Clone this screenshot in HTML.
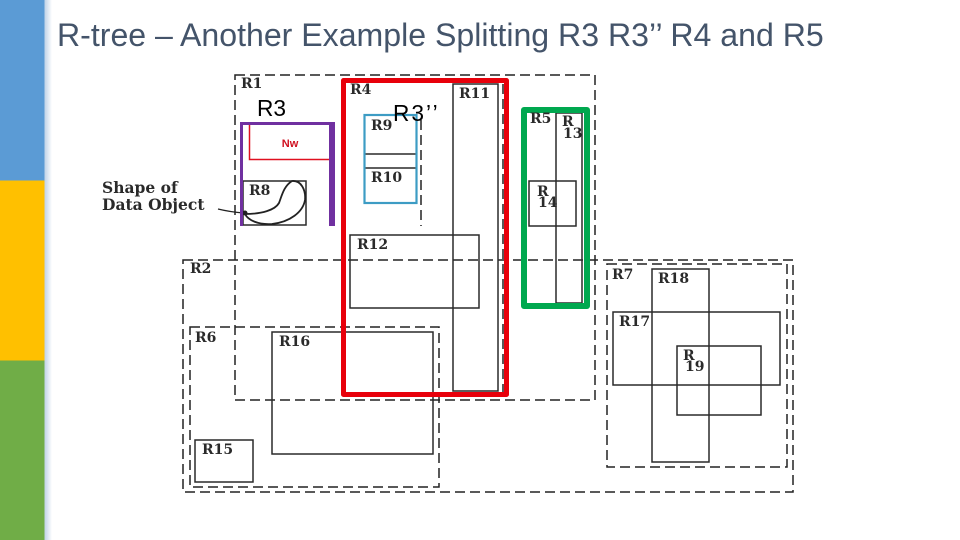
<!DOCTYPE html>
<html lang="en"><head><meta charset="utf-8"><title>R-tree</title>
<style>
html,body{margin:0;padding:0;background:#fff}
svg{display:block}
.t{font-family:"Liberation Sans",sans-serif}
.s{font-family:"DejaVu Serif","Liberation Serif",serif;font-weight:700;font-size:14px;fill:#2a2a2a}
.o{font-size:15.500px}
.d{fill:none;stroke:#222;stroke-width:1.500;stroke-dasharray:10 5}
.b{fill:none;stroke:#2a2a2a;stroke-width:1.500}
</style></head><body>
<svg width="960" height="540" viewBox="0 0 960 540" xmlns="http://www.w3.org/2000/svg">
<defs><linearGradient id="g" x1="0" x2="1" y1="0" y2="0"><stop offset="0" stop-color="#bcd0e6"/><stop offset="1" stop-color="#fff"/></linearGradient></defs>
<rect width="960" height="540" fill="#fff"/>
<rect x="44" width="8" height="540" fill="url(#g)"/>
<rect width="44.500" height="180.500" fill="#5B9BD5"/>
<rect y="180.500" width="44.500" height="180" fill="#FFC000"/>
<rect y="360.500" width="44.500" height="179.500" fill="#70AD47"/>
<text class="t" x="57" y="46" font-size="32.100" fill="#44546A">R-tree – Another Example Splitting R3 R3’’ R4 and R5</text>

<!-- dashed regions -->
<rect class="d" x="235" y="75" width="360" height="325"/>
<rect class="d" x="183" y="260" width="610" height="232"/>
<rect class="d" x="190" y="327" width="249" height="160"/>
<rect class="d" x="607" y="264" width="180" height="203"/>
<path class="d" d="M421 120V226"/>
<path class="d" d="M503 84V392"/>

<!-- white cover around R3 -->
<rect x="240" y="122" width="95" height="104" fill="#fff"/>

<!-- solid regions -->
<rect class="b" x="453" y="84" width="45" height="307"/>
<rect class="b" x="350" y="235" width="129" height="73"/>
<rect class="b" x="556" y="113" width="26" height="190"/>
<rect class="b" x="529" y="181" width="47" height="45"/>
<rect class="b" x="272" y="332" width="161" height="122"/>
<rect class="b" x="195" y="440" width="58" height="42"/>
<rect class="b" x="652" y="269" width="57" height="193"/>
<rect class="b" x="613" y="312" width="167" height="73"/>
<rect class="b" x="677" y="346" width="84" height="69"/>
<rect class="b" x="243" y="181" width="63" height="44"/>
<path class="b" d="M364 154H416M364 168H416"/>

<!-- shape of data object -->
<path d="M245 214C262 214 275 210 279 203C282 195 284 186 292 181C301 180 306 190 305 200C303 212 290 222 272 224C258 225 248 220 245 214Z" fill="none" stroke="#222" stroke-width="1.800"/>
<path d="M218 209Q230 212 244 213" fill="none" stroke="#222" stroke-width="1.200"/>
<circle cx="245" cy="213" r="2.500" fill="#222"/>

<!-- coloured highlights -->
<path d="M241.500 226V123.500H332V226" fill="none" stroke="#7030A0" stroke-width="3"/>
<rect x="329" y="122" width="6" height="104" fill="#7030A0"/>
<path d="M249.500 125V159.500H329" fill="none" stroke="#e01020" stroke-width="1.500"/>
<rect x="364.500" y="115" width="52" height="88" fill="none" stroke="#3d9cc4" stroke-width="2.200"/>
<rect x="343.500" y="80.500" width="163" height="314" fill="none" stroke="#E8000B" stroke-width="5" stroke-linejoin="round"/>
<rect x="524" y="110" width="63" height="196" fill="none" stroke="#00A84F" stroke-width="6" stroke-linejoin="round"/>

<!-- scanned labels -->
<text class="s" x="241" y="88">R1</text>
<text class="s" x="350" y="94">R4</text>
<text class="s" x="459" y="98">R11</text>
<text class="s" x="371" y="130">R9</text>
<text class="s" x="371" y="182">R10</text>
<text class="s" x="530" y="123">R5</text>
<text class="s" x="562" y="126">R</text>
<text class="s" x="563" y="138">13</text>
<text class="s" x="537" y="196">R</text>
<text class="s" x="538" y="207">14</text>
<text class="s" x="357" y="249">R12</text>
<text class="s" x="190" y="273">R2</text>
<text class="s" x="195" y="342">R6</text>
<text class="s" x="279" y="346">R16</text>
<text class="s" x="202" y="454">R15</text>
<text class="s" x="612" y="279">R7</text>
<text class="s" x="658" y="283">R18</text>
<text class="s" x="619" y="326">R17</text>
<text class="s" x="683" y="360">R</text>
<text class="s" x="685" y="371">19</text>
<text class="s" x="249" y="195">R8</text>
<text class="s o" x="102" y="193">Shape of</text>
<text class="s o" x="102" y="210">Data Object</text>
<text x="290" y="147" font-family="'Liberation Sans',sans-serif" font-weight="700" font-size="11" fill="#d01020" text-anchor="middle">Nw</text>

<!-- black overlay labels -->
<text class="t" x="257" y="116" font-size="22.700" fill="#000">R3</text>
<text class="t" x="393" y="121" font-size="22.700" letter-spacing="2" fill="#000">R3’’</text>
</svg>
</body></html>
